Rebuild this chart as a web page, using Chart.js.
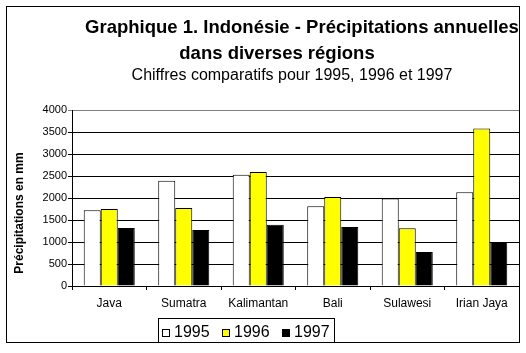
<!DOCTYPE html>
<html>
<head>
<meta charset="utf-8">
<script src="https://cdn.jsdelivr.net/npm/chart.js@4"></script>
<style>
  body { margin: 0; background: #fff; }
  #wrap { width: 526px; height: 353px; }
</style>
</head>
<body>
<div id="wrap"><canvas id="rainChart" width="526" height="353"></canvas></div>
<script>
const regions = ["Java", "Sumatra", "Kalimantan", "Bali", "Sulawesi", "Irian Jaya"];
const rain1995 = [1720, 2390, 2530, 1810, 1990, 2130];
const rain1996 = [1750, 1770, 2590, 2020, 1310, 3580];
const rain1997 = [1320, 1270, 1390, 1340, 770, 1000];
const yTicks = [0, 500, 1000, 1500, 2000, 2500, 3000, 3500, 4000];

const FONT = "'Liberation Sans', Arial, sans-serif";

// titles, rotated axis title, legend box and outer frame
const decor = {
  id: "decor",
  afterDraw(chart) {
    const c = chart.ctx;
    c.save();
    c.fillStyle = "#000";
    c.textBaseline = "alphabetic";
    c.textAlign = "center";
    c.font = "bold 18.5px " + FONT;
    c.fillText("Graphique 1. Indonésie - Précipitations annuelles", 302, 33);
    c.fillText("dans diverses régions", 277, 59);
    c.font = "16px " + FONT;
    c.fillText("Chiffres comparatifs pour 1995, 1996 et 1997", 292, 80);

    c.save();
    c.translate(23, 213);
    c.rotate(-Math.PI / 2);
    c.font = "bold 12px " + FONT;
    c.fillText("Précipitations en mm", 0, 0);
    c.restore();

    // legend
    c.strokeStyle = "#000";
    c.lineWidth = 1;
    c.strokeRect(158.5, 318.5, 176, 24);
    c.font = "16px " + FONT;
    c.textAlign = "left";
    let x = 162;
    chart.data.datasets.forEach(ds => {
      c.fillStyle = ds.backgroundColor;
      c.fillRect(x + 0.5, 329.5, 7, 7);
      c.strokeRect(x + 0.5, 329.5, 7, 7);
      c.fillStyle = "#000";
      c.fillText(ds.label, x + 12, 337);
      x += 60;
    });

    // outer frame
    c.strokeRect(6.5, 6.5, 513, 336);
    c.restore();
  }
};

new Chart(document.getElementById("rainChart"), {
  type: "bar",
  data: {
    labels: regions,
    datasets: [
      { label: "1995", data: rain1995, backgroundColor: "#ffffff" },
      { label: "1996", data: rain1996, backgroundColor: "#ffff00" },
      { label: "1997", data: rain1997, backgroundColor: "#000000" }
    ]
  },
  options: {
    responsive: false,
    animation: false,
    layout: { padding: { top: 110, right: 7, left: 0, bottom: 0 } },
    datasets: {
      bar: {
        borderColor: "#000",
        borderWidth: 1,
        categoryPercentage: 0.685,
        barPercentage: 1.0
      }
    },
    plugins: {
      legend: { display: false },
      title: { display: false },
      tooltip: { enabled: false }
    },
    scales: {
      x: {
        grid: {
          offset: true,
          drawOnChartArea: false,
          color: "#000",
          tickLength: 4
        },
        border: { color: "#000" },
        ticks: { color: "#000", font: { family: FONT, size: 12 }, padding: 6, maxRotation: 0 },
        afterFit: s => { s.height = 67; }
      },
      y: {
        min: 0,
        max: 4000,
        afterBuildTicks: s => { s.ticks = yTicks.map(v => ({ value: v })); },
        grid: {
          color: ctx => (ctx.tick && ctx.tick.value === 4000 ? "#808080" : "#000"),
          tickLength: 4
        },
        border: { color: "#000" },
        ticks: {
          color: "#000",
          font: { family: FONT, size: 11 },
          padding: 1,
          callback: v => String(v)
        },
        afterFit: s => { s.width = 72; }
      }
    }
  },
  plugins: [decor]
});
</script>
</body>
</html>
